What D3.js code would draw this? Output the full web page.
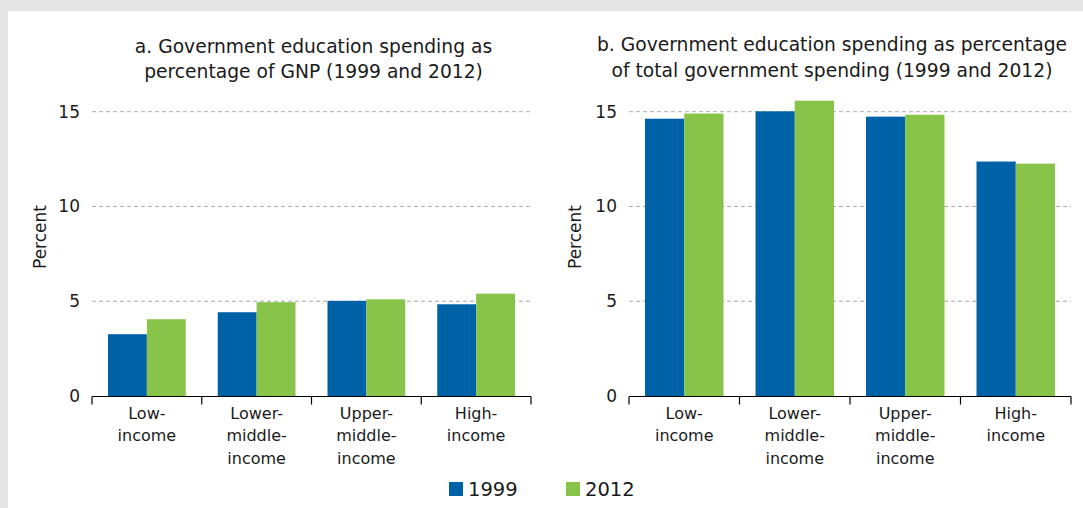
<!DOCTYPE html>
<html><head><meta charset="utf-8">
<script src="https://d3js.org/d3.v7.min.js"></script>
<style>
html,body{margin:0;padding:0;background:#e6e6e6;}
svg{display:block;}
text{font-family:"DejaVu Sans",sans-serif;fill:#1a1a1a;}
</style></head>
<body>
<svg id="chart" width="1083" height="508"></svg>
<script>
const categories = [["Low-","income"],["Lower-","middle-","income"],["Upper-","middle-","income"],["High-","income"]];
const seriesNames = ["1999","2012"];
const gnp1999 = [3.26, 4.42, 5.02, 4.84];
const gnp2012 = [4.05, 4.95, 5.10, 5.40];
const tot1999 = [14.63, 15.02, 14.74, 12.37];
const tot2012 = [14.90, 15.58, 14.84, 12.26];
const yTicks = [0, 5, 10, 15];
const titleA = ["a. Government education spending as","percentage of GNP (1999 and 2012)"];
const titleB = ["b. Government education spending as percentage","of total government spending (1999 and 2012)"];
const colors = ["#0062a6","#88c34a"];

const svg = d3.select("#chart");
svg.append("rect").attr("x",8).attr("y",11).attr("width",1075).attr("height",497).attr("fill","#fff");

function panel(x0, x1, data1, data2, title, tpos, labelX){
  const y = d3.scaleLinear().domain([0,15]).range([396,111.7]);
  const keys = categories.map((c,i)=>i);
  const x = d3.scaleBand().domain(keys).range([x0,x1]).paddingInner(0).paddingOuter(0);
  const inner = d3.scaleBand().domain([0,1]).range([16, x.bandwidth()-16]);
  const g = svg.append("g");
  g.selectAll(".grid").data(yTicks.filter(d=>d>0)).join("line")
    .attr("x1",x0).attr("x2",x1).attr("y1",d=>y(d)).attr("y2",d=>y(d))
    .attr("stroke","#aaaaaa").attr("stroke-width",1).attr("stroke-dasharray","4,3");
  g.selectAll(".yl").data(yTicks).join("text")
    .attr("x",x0-12).attr("y",d=>y(d)).attr("dy","0.35em").attr("text-anchor","end")
    .attr("font-size",17).text(d=>d);
  [data1,data2].forEach((arr,si)=>{
    g.selectAll(".b"+si).data(arr).join("rect")
      .attr("x",(d,i)=>x(i)+inner(si)).attr("width",inner.bandwidth())
      .attr("y",d=>y(d)).attr("height",d=>y(0)-y(d)).attr("fill",colors[si]);
  });
  const ax = g.append("g").attr("transform","translate(0,396.5)");
  ax.append("line").attr("x1",x0).attr("x2",x1).attr("stroke","#000").attr("stroke-width",1.2);
  const bounds = keys.map(k=>x(k)).concat([x1]);
  ax.selectAll(".tk").data(bounds).join("line")
    .attr("x1",d=>d).attr("x2",d=>d).attr("y1",0).attr("y2",8).attr("stroke","#000").attr("stroke-width",1.2);
  categories.forEach((c,i)=>{
    const t = g.append("text").attr("x",x(i)+x.bandwidth()/2).attr("y",418.5).attr("text-anchor","middle").attr("font-size",16);
    c.forEach((line,j)=>t.append("tspan").attr("x",x(i)+x.bandwidth()/2).attr("dy",j?22.8:0).text(line));
  });
  const cx = (x0+x1)/2 + tpos.dx;
  const tt = g.append("text").attr("x",cx).attr("y",tpos.y).attr("text-anchor","middle").attr("font-size",18.7);
  title.forEach((line,j)=>tt.append("tspan").attr("x",cx).attr("dy",j?25.5:0).text(line));
  g.append("text").attr("transform",`translate(${labelX},237) rotate(-90)`).attr("text-anchor","middle")
    .attr("font-size",17).text("Percent");
}

panel(92, 531, gnp1999, gnp2012, titleA, {y:52.5,dx:2}, 46);
panel(629, 1071, tot1999, tot2012, titleB, {y:51,dx:-18}, 581);

const lg = svg.append("g");
seriesNames.forEach((s,i)=>{
  const lx = [449,566][i];
  lg.append("rect").attr("x",lx).attr("y",482).attr("width",14).attr("height",14).attr("fill",colors[i]);
  lg.append("text").attr("x",lx+19).attr("y",489).attr("dy","0.35em").attr("font-size",19.5).text(s);
});
</script>
</body></html>
